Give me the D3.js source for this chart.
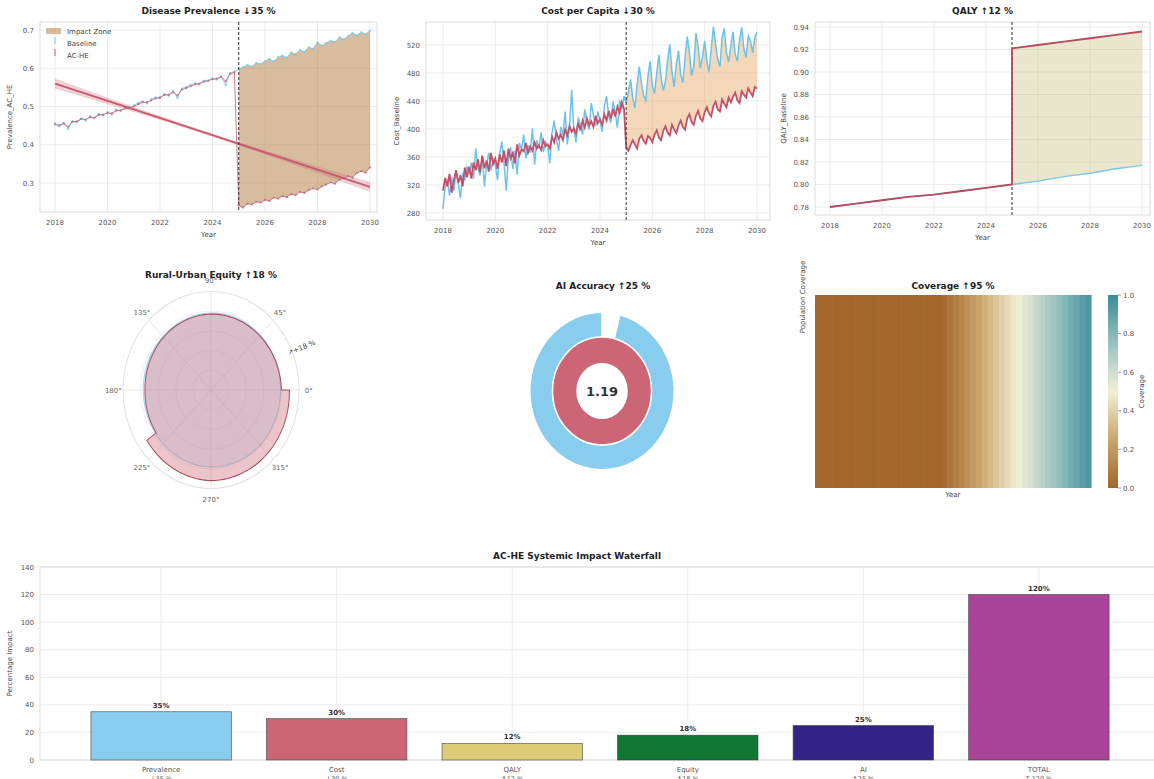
<!DOCTYPE html>
<html>
<head>
<meta charset="utf-8">
<script src="https://cdn.jsdelivr.net/npm/d3@7"></script>
<style>
  body { margin: 0; background: #fff; }
  svg { font-family: "DejaVu Sans", sans-serif; }
</style>
</head>
<body>
<svg id="fig" width="1154" height="779"></svg>
<script>
// ---------- data ----------
const yearTicks = [2018, 2020, 2022, 2024, 2026, 2028, 2030];
const interventionYear = 2025;

// prevalence, every 2 months 2018..2030
const prevBaseline = [
  0.452,0.448,0.458,0.441,0.462,0.458,0.470,0.463,0.475,0.469,0.481,0.476,
  0.486,0.479,0.492,0.488,0.497,0.494,0.503,0.509,0.514,0.508,0.519,0.524,
  0.521,0.533,0.528,0.541,0.522,0.547,0.551,0.556,0.561,0.557,0.568,0.566,
  0.574,0.570,0.579,0.556,0.588,0.591,0.598,0.603,0.609,0.604,0.614,0.611,
  0.619,0.624,0.618,0.629,0.633,0.628,0.641,0.637,0.648,0.643,0.655,0.651,
  0.668,0.659,0.666,0.672,0.669,0.681,0.676,0.684,0.692,0.686,0.694,0.689,
  0.698];
const prevAcHe = [
  0.455,0.451,0.455,0.447,0.460,0.461,0.467,0.466,0.472,0.471,0.478,0.479,
  0.483,0.482,0.489,0.490,0.495,0.497,0.500,0.506,0.511,0.511,0.516,0.521,
  0.524,0.530,0.531,0.537,0.529,0.544,0.548,0.553,0.558,0.560,0.565,0.568,
  0.571,0.573,0.577,0.566,0.585,0.589,0.241,0.236,0.246,0.244,0.251,0.249,
  0.256,0.253,0.262,0.259,0.266,0.263,0.271,0.268,0.277,0.274,0.282,0.286,
  0.283,0.291,0.296,0.302,0.298,0.309,0.313,0.318,0.314,0.326,0.331,0.327,
  0.341];
const prevTrendYears = [2018, 2024, 2030];
const prevTrend = [0.560, 0.425, 0.290];
const prevTrendBand = [0.013, 0.004, 0.013];

// cost per capita, monthly 2018..2030
const costBaseline = [
  286,318,326,305,331,312,340,322,301,335,328,346,
  338,352,329,372,345,334,361,318,350,366,341,357,
  349,327,365,382,352,312,360,374,343,369,335,380,
  371,392,358,377,366,401,349,384,372,395,367,382,
  376,351,394,412,386,369,403,391,425,378,402,456,
  398,381,416,405,392,428,411,399,437,419,404,425,
  412,396,433,447,418,409,439,423,402,441,428,447,
  438,452,471,445,430,462,489,466,448,441,476,497,
  462,451,480,506,474,455,468,498,521,482,460,493,
  512,478,466,501,532,509,476,490,537,518,487,503,
  526,497,481,515,546,522,500,489,531,544,509,496,
  518,539,507,497,527,545,514,502,533,526,509,531,
  538];
const costAcHe = [
  312,330,318,336,309,327,341,323,334,318,345,331,
  346,329,352,341,357,338,362,344,355,339,366,350,
  358,343,364,352,369,347,372,358,366,351,378,362,
  371,368,380,366,375,369,381,372,377,370,384,375,
  378,372,389,381,395,386,392,384,399,391,404,396,
  401,393,409,398,412,402,415,405,411,403,419,408,
  414,406,421,412,426,415,429,418,432,423,438,429,
  374,369,377,384,378,372,386,391,383,379,390,387,
  381,392,398,388,384,397,404,395,391,406,399,394,
  405,412,403,399,415,421,410,406,419,426,415,411,
  424,431,422,418,433,439,428,425,442,436,431,445,
  438,446,452,441,437,454,449,445,458,452,447,460,
  458];

// QALY, yearly (2025 repeated for the step)
const qalyYears = [2018,2019,2020,2021,2022,2023,2024,2025,2025,2026,2027,2028,2029,2030];
const qalyBaseline = [0.780,0.783,0.786,0.789,0.791,0.794,0.797,0.800,0.800,0.803,0.807,0.810,0.814,0.817];
const qalyAcHe = [0.780,0.783,0.786,0.789,0.791,0.794,0.797,0.800,0.921,0.924,0.927,0.930,0.933,0.936];

// equity (polar)
const equityAngles = [0, 45, 90, 135, 180, 215, 215, 270, 315, 360];
const equityBaseline = [0.79, 0.79, 0.78, 0.77, 0.77, 0.77, 0.77, 0.78, 0.79, 0.79];
const equityAcHe = [0.80, 0.78, 0.77, 0.76, 0.75, 0.76, 0.89, 0.92, 0.91, 0.89];
const polarLabels = [0, 45, 90, 135, 180, 225, 270, 315];

// AI accuracy rings
const aiBaseline = 0.96;
const aiAcHe = 1.0;
const aiRatio = "1.19";

// coverage per quarter 2018..2029
const coverage = [
  0,0,0,0,0,0,0,0,0,0,0,0,0,0,0,0,0,0,0,0,0,0,
  0.02,0.06,0.09,0.13,0.17,0.21,0.24,0.28,0.32,0.36,0.40,0.43,0.47,
  0.51,0.55,0.58,0.62,0.66,0.70,0.73,0.77,0.81,0.85,0.88,0.92,0.95];
const coverageTicks = [0, 0.2, 0.4, 0.6, 0.8, 1.0];

// waterfall
const impactCats = ["Prevalence", "Cost", "QALY", "Equity", "AI", "TOTAL"];
const impactSub = ["↓35 %", "↓30 %", "↑12 %", "↑18 %", "↑25 %", "Σ 120 %"];
const impactVals = [35, 30, 12, 18, 25, 120];
const impactColors = ["#88CCEE", "#CC6677", "#DDCC77", "#117733", "#332288", "#AA4499"];
const impactTicks = [0, 20, 40, 60, 80, 100, 120, 140];

// ---------- drawing ----------
const svg = d3.select("#fig");
const GRID = "#e6e6e6", SPINE = "#d4d4d4", TXT = "#555";
const BLUE = "#7cc7ea", RED = "#c95a6e";
const prevTime = prevBaseline.map((d, i) => 2018 + i / 6);
const costTime = costBaseline.map((d, i) => 2018 + i / 12);

let clipId = 0;
function panel(cfg) {
  const g = svg.append("g");
  const [fx0, fx1, fy0, fy1] = cfg.frame;
  const x = d3.scaleLinear().domain([2018, 2030]).range(cfg.xr);
  const y = d3.scaleLinear().domain(cfg.yd).range(cfg.yr);

  g.selectAll(".gx").data(yearTicks).join("line").attr("class", "gx")
    .attr("x1", d => x(d)).attr("x2", d => x(d)).attr("y1", fy0).attr("y2", fy1)
    .attr("stroke", GRID).attr("stroke-width", 0.8);
  g.selectAll(".gy").data(cfg.yTicks).join("line").attr("class", "gy")
    .attr("x1", fx0).attr("x2", fx1).attr("y1", d => y(d)).attr("y2", d => y(d))
    .attr("stroke", GRID).attr("stroke-width", 0.8);
  g.append("rect").attr("x", fx0).attr("y", fy0).attr("width", fx1 - fx0).attr("height", fy1 - fy0)
    .attr("fill", "none").attr("stroke", SPINE).attr("stroke-width", 0.8);

  g.selectAll(".tx").data(yearTicks).join("text").attr("class", "tx")
    .attr("x", d => x(d)).attr("y", fy1 + 13).attr("text-anchor", "middle")
    .attr("font-size", 7).attr("fill", TXT).text(d => d);
  g.selectAll(".ty").data(cfg.yTicks).join("text").attr("class", "ty")
    .attr("x", fx0 - 6).attr("y", d => y(d) + 2.5).attr("text-anchor", "end")
    .attr("font-size", 7).attr("fill", TXT).text(d => d3.format(cfg.fmt)(d));

  g.append("text").attr("x", (fx0 + fx1) / 2).attr("y", fy1 + 25).attr("text-anchor", "middle")
    .attr("font-size", 7).attr("fill", "#444").text("Year");
  g.append("text").attr("transform", `translate(${cfg.ylabX},${(fy0 + fy1) / 2}) rotate(-90)`)
    .attr("text-anchor", "middle").attr("font-size", 7).attr("fill", "#444").text(cfg.ylab);
  g.append("text").attr("x", (fx0 + fx1) / 2).attr("y", 14).attr("text-anchor", "middle")
    .attr("font-size", 9).attr("font-weight", "bold").attr("fill", "#222").text(cfg.title);

  const id = "clip" + (clipId++);
  svg.append("clipPath").attr("id", id).append("rect")
    .attr("x", fx0).attr("y", fy0).attr("width", fx1 - fx0).attr("height", fy1 - fy0);
  const plot = g.append("g").attr("clip-path", `url(#${id})`);
  return { g, plot, x, y, frame: cfg.frame };
}

function vline(p) {
  p.plot.append("line").attr("x1", p.x(interventionYear)).attr("x2", p.x(interventionYear))
    .attr("y1", p.frame[2]).attr("y2", p.frame[3])
    .attr("stroke", "#333").attr("stroke-width", 1).attr("stroke-dasharray", "3,2");
}

// panel 1 - prevalence
const p1 = panel({
  frame: [40, 377, 22, 212], xr: [55, 370], yd: [0.3, 0.7], yr: [183, 30],
  yTicks: [0.3, 0.4, 0.5, 0.6, 0.7], fmt: ".1f", ylabX: 12,
  ylab: "Prevalence_AC_HE", title: "Disease Prevalence ↓35 %"
});
{
  const idx = d3.range(prevTime.length).filter(i => prevTime[i] >= interventionYear - 1e-9);
  p1.plot.append("path").datum(idx)
    .attr("d", d3.area().x(i => p1.x(prevTime[i])).y0(i => p1.y(prevAcHe[i])).y1(i => p1.y(prevBaseline[i])))
    .attr("fill", "#af793b").attr("fill-opacity", 0.5);
  const tIdx = d3.range(prevTrendYears.length);
  p1.plot.append("path").datum(tIdx)
    .attr("d", d3.area().curve(d3.curveMonotoneX).x(i => p1.x(prevTrendYears[i]))
      .y0(i => p1.y(prevTrend[i] - prevTrendBand[i])).y1(i => p1.y(prevTrend[i] + prevTrendBand[i])))
    .attr("fill", "#CC6677").attr("fill-opacity", 0.3);
  const all = d3.range(prevTime.length);
  const series = [[prevBaseline, BLUE], [prevAcHe, "#c4687a"]];
  series.forEach(([vals, col]) => {
    p1.plot.append("path").datum(all)
      .attr("d", d3.line().x(i => p1.x(prevTime[i])).y(i => p1.y(vals[i])))
      .attr("fill", "none").attr("stroke", col).attr("stroke-width", 1).attr("stroke-opacity", 0.85);
    p1.plot.append("g").selectAll("circle").data(all).join("circle")
      .attr("cx", i => p1.x(prevTime[i])).attr("cy", i => p1.y(vals[i])).attr("r", 1.1)
      .attr("fill", col).attr("fill-opacity", 0.8);
  });
  p1.plot.append("path").datum(tIdx)
    .attr("d", d3.line().x(i => p1.x(prevTrendYears[i])).y(i => p1.y(prevTrend[i])))
    .attr("stroke", RED).attr("stroke-width", 1.8).attr("fill", "none");
  vline(p1);
  // legend
  const lg = p1.g.append("g").attr("transform", "translate(46,27)");
  lg.append("rect").attr("width", 15).attr("height", 6).attr("y", 1)
    .attr("fill", "#af793b").attr("fill-opacity", 0.5);
  [["Baseline", BLUE], ["AC-HE", RED]].forEach(([name, col], k) => {
    lg.append("line").attr("x1", 9).attr("x2", 9).attr("y1", 10 + k * 12).attr("y2", 17 + k * 12)
      .attr("stroke", col).attr("stroke-width", 1);
  });
  ["Impact Zone", "Baseline", "AC-HE"].forEach((t, k) => {
    lg.append("text").attr("x", 21).attr("y", 7 + k * 12).attr("font-size", 7).attr("fill", "#444").text(t);
  });
}

// panel 2 - cost
const p2 = panel({
  frame: [426, 770, 22, 220], xr: [443, 757], yd: [280, 520], yr: [213, 45],
  yTicks: [280, 320, 360, 400, 440, 480, 520], fmt: "d", ylabX: 399,
  ylab: "Cost_Baseline", title: "Cost per Capita ↓30 %"
});
{
  const idx = d3.range(costTime.length).filter(i => costTime[i] >= interventionYear - 1e-9);
  p2.plot.append("path").datum(idx)
    .attr("d", d3.area().x(i => p2.x(costTime[i])).y0(i => p2.y(costAcHe[i])).y1(i => p2.y(costBaseline[i])))
    .attr("fill", "#e69b50").attr("fill-opacity", 0.4);
  const all = d3.range(costTime.length);
  p2.plot.append("path").datum(all)
    .attr("d", d3.line().x(i => p2.x(costTime[i])).y(i => p2.y(costBaseline[i])))
    .attr("fill", "none").attr("stroke", "#6cc2ea").attr("stroke-width", 1.5);
  p2.plot.append("path").datum(all)
    .attr("d", d3.line().x(i => p2.x(costTime[i])).y(i => p2.y(costAcHe[i])))
    .attr("fill", "none").attr("stroke", "#c4506a").attr("stroke-width", 1.8);
  vline(p2);
}

// panel 3 - QALY
const p3 = panel({
  frame: [815, 1150, 22, 215], xr: [830, 1142], yd: [0.78, 0.94], yr: [207, 27],
  yTicks: [0.78, 0.80, 0.82, 0.84, 0.86, 0.88, 0.90, 0.92, 0.94], fmt: ".2f", ylabX: 786,
  ylab: "QALY_Baseline", title: "QALY ↑12 %"
});
{
  const idx = d3.range(7, qalyYears.length);
  p3.plot.append("path").datum(idx)
    .attr("d", d3.area().x(i => p3.x(qalyYears[i])).y0(i => p3.y(qalyBaseline[i])).y1(i => p3.y(qalyAcHe[i])))
    .attr("fill", "#b6af58").attr("fill-opacity", 0.3);
  const all = d3.range(qalyYears.length);
  p3.plot.append("path").datum(all)
    .attr("d", d3.line().x(i => p3.x(qalyYears[i])).y(i => p3.y(qalyBaseline[i])))
    .attr("fill", "none").attr("stroke", BLUE).attr("stroke-width", 1.5);
  vline(p3);
  p3.plot.append("path").datum(all)
    .attr("d", d3.line().x(i => p3.x(qalyYears[i])).y(i => p3.y(qalyAcHe[i])))
    .attr("fill", "none").attr("stroke", "#b54a60").attr("stroke-width", 1.8);
}

// polar - equity
{
  const cx = 211, cy = 390, sy = 1.12;
  const r = d3.scaleLinear().domain([0, 1]).range([0, 88]);
  const g = svg.append("g").attr("transform", `translate(${cx},${cy}) scale(1,${sy})`);
  [0.2, 0.4, 0.6, 0.8].forEach(v => g.append("circle").attr("r", r(v))
    .attr("fill", "none").attr("stroke", "#ececec").attr("stroke-width", 0.8));
  polarLabels.forEach(a => {
    const t = a * Math.PI / 180;
    g.append("line").attr("x2", r(1) * Math.cos(t)).attr("y2", -r(1) * Math.sin(t))
      .attr("stroke", "#e4e4e4").attr("stroke-width", 0.8);
  });
  g.append("circle").attr("r", r(1)).attr("fill", "none").attr("stroke", "#e2e2e2").attr("stroke-width", 1);

  // spiral interpolation between the data points, like a polar plot
  function pts(vals) {
    const out = [];
    for (let i = 0; i < equityAngles.length - 1; i++) {
      const a0 = equityAngles[i], a1 = equityAngles[i + 1];
      const n = Math.max(1, Math.ceil(Math.abs(a1 - a0) / 3));
      const ia = d3.interpolate(a0, a1), ir = d3.interpolate(vals[i], vals[i + 1]);
      for (let k = 0; k < n; k++) out.push([ia(k / n), ir(k / n)]);
    }
    out.push([equityAngles[equityAngles.length - 1], vals[vals.length - 1]]);
    return out;
  }
  const radial = d3.lineRadial().angle(d => Math.PI / 2 - d[0] * Math.PI / 180).radius(d => r(d[1]))
    .curve(d3.curveLinearClosed);
  g.append("path").attr("d", radial(pts(equityBaseline)))
    .attr("fill", "#88CCEE").attr("fill-opacity", 0.25).attr("stroke", "#9fd3ee").attr("stroke-width", 1);
  g.append("path").attr("d", radial(pts(equityAcHe)))
    .attr("fill", "#CC6677").attr("fill-opacity", 0.38).attr("stroke", "#a8505f").attr("stroke-width", 1);

  polarLabels.forEach(a => {
    const t = a * Math.PI / 180;
    svg.append("text").attr("x", cx + r(1.11) * Math.cos(t)).attr("y", cy - r(1.11) * sy * Math.sin(t) + 2.5)
      .attr("text-anchor", "middle").attr("font-size", 7).attr("fill", "#666").text(a + "°");
  });
  svg.append("text").attr("transform", `translate(${cx + r(0.95) * Math.cos(0.38)},${cy - r(0.95) * sy * Math.sin(0.38)}) rotate(-22)`)
    .attr("font-size", 7).attr("fill", "#444").text("↗+18 %");
  svg.append("text").attr("x", cx).attr("y", 278).attr("text-anchor", "middle")
    .attr("font-size", 9).attr("font-weight", "bold").attr("fill", "#222").text("Rural-Urban Equity ↑18 %");
}

// donut - AI accuracy
{
  const cx = 602, cy = 391;
  const g = svg.append("g").attr("transform", `translate(${cx},${cy}) scale(1,1.09)`);
  const outer = d3.pie().sort(null).startAngle(0).endAngle(-2 * Math.PI)([aiBaseline, 1 - aiBaseline]);
  const inner = d3.pie().sort(null).startAngle(0).endAngle(-2 * Math.PI)([aiAcHe]);
  g.selectAll(".o").data(outer).join("path").attr("class", "o")
    .attr("d", d3.arc().innerRadius(49.5).outerRadius(72))
    .attr("fill", (d, i) => i === 0 ? "#88CCEE" : "none").attr("stroke", "#fff").attr("stroke-width", 1);
  g.selectAll(".i").data(inner).join("path").attr("class", "i")
    .attr("d", d3.arc().innerRadius(25).outerRadius(49.5))
    .attr("fill", "#CC6677").attr("stroke", "#fff").attr("stroke-width", 1.5);
  svg.append("text").attr("x", cx).attr("y", cy + 5).attr("text-anchor", "middle")
    .attr("font-size", 13).attr("font-weight", "bold").attr("fill", "#333").text(aiRatio);
  svg.append("text").attr("x", cx + 1).attr("y", 289).attr("text-anchor", "middle")
    .attr("font-size", 9).attr("font-weight", "bold").attr("fill", "#222").text("AI Accuracy ↑25 %");
}

// heatmap - coverage
{
  const x0 = 815, x1 = 1091, y0 = 295, y1 = 488;
  const color = d3.scaleLinear().domain([0, 0.25, 0.5, 0.75, 1])
    .range(["#a1672b", "#caa56c", "#f3efd6", "#97c2bf", "#3a8c9a"]);
  const x = d3.scaleBand().domain(d3.range(coverage.length)).range([x0, x1]);
  svg.append("g").selectAll("rect").data(coverage).join("rect")
    .attr("x", (d, i) => x(i)).attr("y", y0).attr("width", x.bandwidth() + 0.6).attr("height", y1 - y0)
    .attr("fill", d => color(d));
  // colorbar
  const cb = d3.scaleLinear().domain([0, 1]).range([y1, y0]);
  const grad = svg.append("defs").append("linearGradient").attr("id", "cbg")
    .attr("x1", 0).attr("x2", 0).attr("y1", 1).attr("y2", 0);
  color.domain().forEach(v => grad.append("stop").attr("offset", v).attr("stop-color", color(v)));
  svg.append("rect").attr("x", 1108).attr("y", y0).attr("width", 10).attr("height", y1 - y0).attr("fill", "url(#cbg)");
  coverageTicks.forEach(v => {
    svg.append("line").attr("x1", 1118).attr("x2", 1121).attr("y1", cb(v)).attr("y2", cb(v)).attr("stroke", "#555").attr("stroke-width", 0.6);
    svg.append("text").attr("x", 1123).attr("y", cb(v) + 2.5).attr("font-size", 7).attr("fill", TXT).text(d3.format(".1f")(v));
  });
  svg.append("text").attr("transform", `translate(1144,${(y0 + y1) / 2}) rotate(-90)`).attr("text-anchor", "middle")
    .attr("font-size", 7).attr("fill", "#444").text("Coverage");
  svg.append("text").attr("transform", "translate(805,297) rotate(-90)").attr("text-anchor", "middle")
    .attr("font-size", 7).attr("fill", "#444").text("Population Coverage");
  svg.append("text").attr("x", (x0 + x1) / 2).attr("y", 497).attr("text-anchor", "middle")
    .attr("font-size", 7).attr("fill", "#444").text("Year");
  svg.append("text").attr("x", (x0 + x1) / 2).attr("y", 289).attr("text-anchor", "middle")
    .attr("font-size", 9).attr("font-weight", "bold").attr("fill", "#222").text("Coverage ↑95 %");
}

// waterfall
{
  const fx0 = 40, fx1 = 1160, fy0 = 567, fy1 = 760;
  const x = d3.scaleLinear().domain([-0.69, 5.69]).range([fx0, fx1]);
  const y = d3.scaleLinear().domain([0, 140]).range([fy1, fy0]);
  const g = svg.append("g");
  g.selectAll(".gy").data(impactTicks).join("line").attr("class", "gy")
    .attr("x1", fx0).attr("x2", fx1).attr("y1", d => y(d)).attr("y2", d => y(d))
    .attr("stroke", GRID).attr("stroke-width", 0.8);
  g.selectAll(".gx").data(impactCats).join("line").attr("class", "gx")
    .attr("x1", (d, i) => x(i)).attr("x2", (d, i) => x(i)).attr("y1", fy0).attr("y2", fy1)
    .attr("stroke", GRID).attr("stroke-width", 0.8);
  g.append("rect").attr("x", fx0).attr("y", fy0).attr("width", fx1 - fx0).attr("height", fy1 - fy0)
    .attr("fill", "none").attr("stroke", SPINE).attr("stroke-width", 0.8);
  const bw = x(0.4) - x(-0.4);
  g.selectAll(".bar").data(impactVals).join("rect").attr("class", "bar")
    .attr("x", (d, i) => x(i) - bw / 2).attr("width", bw)
    .attr("y", d => y(d)).attr("height", d => y(0) - y(d))
    .attr("fill", (d, i) => impactColors[i]).attr("stroke", "#3a3a3a").attr("stroke-width", 0.7).attr("stroke-opacity", 0.8);
  g.selectAll(".bl").data(impactVals).join("text").attr("class", "bl")
    .attr("x", (d, i) => x(i)).attr("y", d => y(d) - 4).attr("text-anchor", "middle")
    .attr("font-size", 7).attr("font-weight", "bold").attr("fill", "#333").text(d => d + "%");
  g.selectAll(".ty").data(impactTicks).join("text").attr("class", "ty")
    .attr("x", fx0 - 6).attr("y", d => y(d) + 2.5).attr("text-anchor", "end")
    .attr("font-size", 7).attr("fill", TXT).text(d => d);
  g.selectAll(".tx").data(impactCats).join("text").attr("class", "tx")
    .attr("x", (d, i) => x(i)).attr("y", fy1 + 12).attr("text-anchor", "middle")
    .attr("font-size", 7).attr("fill", TXT).text(d => d);
  g.selectAll(".tx2").data(impactSub).join("text").attr("class", "tx2")
    .attr("x", (d, i) => x(i)).attr("y", fy1 + 21).attr("text-anchor", "middle")
    .attr("font-size", 6.5).attr("fill", TXT).text(d => d);
  g.append("text").attr("transform", `translate(12,${(fy0 + fy1) / 2}) rotate(-90)`).attr("text-anchor", "middle")
    .attr("font-size", 7).attr("fill", "#444").text("Percentage Impact");
  g.append("text").attr("x", 577).attr("y", 559).attr("text-anchor", "middle")
    .attr("font-size", 9).attr("font-weight", "bold").attr("fill", "#222").text("AC-HE Systemic Impact Waterfall");
}
</script>
</body>
</html>
